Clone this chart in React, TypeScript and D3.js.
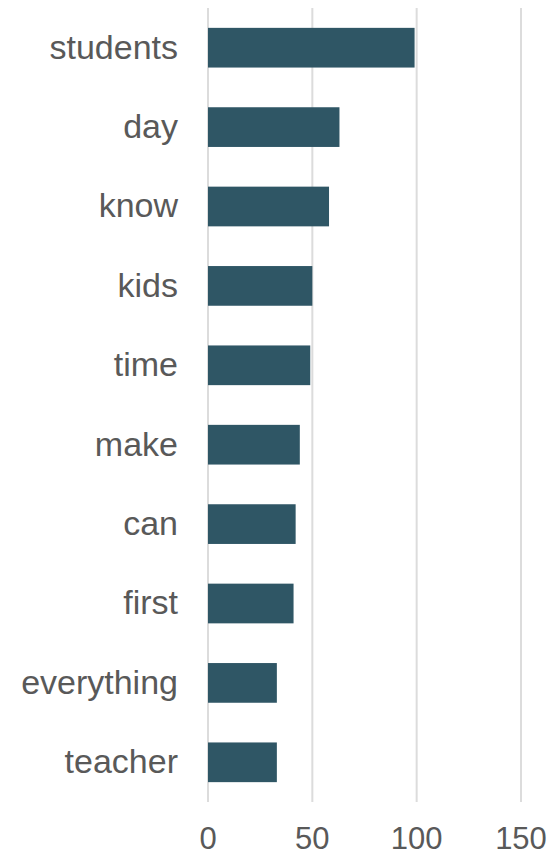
import React from "react";
import * as d3 from "d3";

const words = ["students", "day", "know", "kids", "time", "make", "can", "first", "everything", "teacher"];
const counts = [99, 63, 58, 50, 49, 44, 42, 41, 33, 33];
const xTicks = [0, 50, 100, 150];

const W = 556;
const H = 854;
const left = 208;
const right = 521;
const top = 8;
const bottom = 802;

export default function App() {
  const x = d3.scaleLinear().domain([0, 150]).range([left, right]);
  const y = d3.scaleBand<string>().domain(words).range([top, bottom]).paddingInner(0.5).paddingOuter(0.25);
  const font = "'Liberation Sans', Arial, Helvetica, sans-serif";
  return (
    <svg width={W} height={H} style={{ position: "absolute", left: 0, top: 0, background: "#fff" }}>
      {xTicks.map((t) => (
        <line key={t} x1={x(t)} x2={x(t)} y1={top} y2={bottom} stroke="#dcdcdc" strokeWidth={2} />
      ))}
      {words.map((w, i) => (
        <rect key={w} x={x(0)} y={y(w)!} width={x(counts[i]) - x(0)} height={y.bandwidth()} fill="#2f5665" />
      ))}
      {words.map((w) => (
        <text
          key={w}
          x={178}
          y={y(w)! + y.bandwidth() / 2}
          dy="0.32em"
          textAnchor="end"
          fontFamily={font}
          fontSize={34}
          fill="#595959"
        >
          {w}
        </text>
      ))}
      {xTicks.map((t) => (
        <text key={t} x={x(t)} y={849} textAnchor="middle" fontFamily={font} fontSize={31} fill="#595959">
          {t}
        </text>
      ))}
    </svg>
  );
}
